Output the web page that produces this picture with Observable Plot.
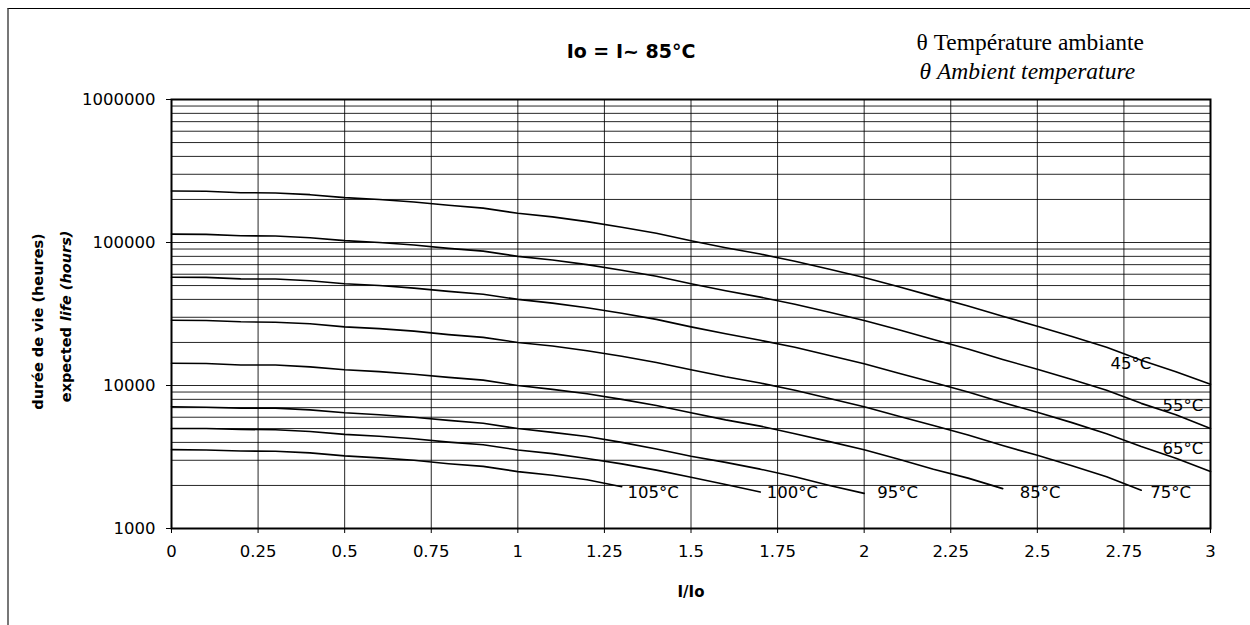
<!DOCTYPE html>
<html>
<head>
<meta charset="utf-8">
<script src="https://cdn.jsdelivr.net/npm/d3@7"></script>
<script src="https://cdn.jsdelivr.net/npm/@observablehq/plot@0.6"></script>
<style>
  html, body { margin: 0; padding: 0; background: #fff; }
  #wrap { position: relative; width: 1250px; height: 625px; overflow: hidden; }
  #wrap svg { position: absolute; left: 0; top: 0; }
  #border { position: absolute; left: 7px; top: 8px; width: 1300px; height: 700px;
            border-top: 1px solid #000; border-left: 2px solid #777; pointer-events: none; }
</style>
</head>
<body>
<div id="wrap"><div id="border"></div></div>
<script>
// ---- data ----
const xs = [0,0.1,0.2,0.3,0.4,0.5,0.6,0.7,0.8,0.9,1,1.1,1.2,1.3,1.4,1.5,1.6,1.7,1.8,1.9,2,2.1,2.2,2.3,2.4,2.5,2.6,2.7,2.8,2.9,3];

const temps = ["45°C","55°C","65°C","75°C","85°C","95°C","100°C","105°C"];

const life45  = [229000,228000,223000,222000,216000,206000,200000,192000,182000,174000,160000,151000,140000,128000,116000,103000,92000,83000,74000,65000,57000,49000,42000,36000,30500,26000,22000,18500,15000,12500,10200];
const life55  = [114500,114000,111500,111000,108000,103000,100000,96000,91000,87000,80000,75500,70000,64000,58000,51500,46000,41500,37000,32500,28500,24500,21000,18000,15200,13000,11000,9250,7500,6250,5000];
const life65  = [57200,57000,55700,55500,54000,51500,50000,48000,45500,43500,40000,37700,35000,32000,29000,25700,23000,20700,18500,16200,14200,12200,10500,9000,7600,6500,5500,4600,3750,3100,2500];
const life75  = [28600,28500,27900,27700,27000,25700,25000,24000,22700,21700,20000,18900,17500,16000,14500,12900,11500,10400,9250,8100,7100,6100,5250,4500,3800,3250,2750,2300,1850];
const life85  = [14300,14250,13900,13900,13500,12900,12500,12000,11400,10900,10000,9400,8750,8000,7250,6450,5750,5200,4600,4050,3550,3050,2600,2250,1900];
const life95  = [7100,7050,6950,6950,6750,6450,6250,6000,5700,5450,5000,4700,4400,4000,3600,3200,2900,2600,2300,2000,1760];
const life100 = [5000,5000,4930,4900,4770,4550,4420,4240,4020,3850,3540,3340,3090,2830,2560,2280,2030,1800];
const life105 = [3560,3540,3480,3470,3380,3220,3120,3000,2840,2720,2500,2360,2190,1960];

const lives = [life45, life55, life65, life75, life85, life95, life100, life105];

// curve label anchor points (data units)
const labelX = [2.77, 2.92, 2.92, 2.885, 2.508, 2.097, 1.793, 1.391];
const labelY = [14250, 7250, 3620, 1770, 1770, 1770, 1770, 1770];

const xTicks = [0,0.25,0.5,0.75,1,1.25,1.5,1.75,2,2.25,2.5,2.75,3];
const yTicks = [1000,10000,100000,1000000];
const yGrid = [3,4,5].flatMap(e => [1,2,3,4,5,6,7,8,9].map(k => k * 10 ** e)).concat([1e6]);

const titleText = "Io = I~ 85°C";
const legend1 = "θ Température ambiante";
const legend2 = "θ Ambient temperature";
const yLabel1 = "durée de vie (heures)";
const yLabel2a = "expected";
const yLabel2b = "life (hours)";
const xLabel = "I/Io";

// ---- build tables ----
const rows = temps.flatMap((t, k) => lives[k].map((v, i) => ({t, x: xs[i], y: v})));
const labels = temps.map((t, k) => ({t, x: labelX[k], y: labelY[k]}));

const SANS = "DejaVu Sans, Arial, sans-serif";
const SERIF = "Liberation Serif, Times New Roman, serif";

// frame box: left 171, right 1210, top 99, bottom 528
const chart = Plot.plot({
  width: 1250,
  height: 625,
  marginLeft: 171,
  marginRight: 40,
  marginTop: 99,
  marginBottom: 97,
  style: {fontFamily: SANS, fontSize: "16.5px", color: "#000", background: "transparent", overflow: "visible"},
  x: {domain: [0, 3]},
  y: {type: "log", domain: [1000, 1000000]},
  marks: [
    Plot.ruleY(yGrid, {stroke: "#000", strokeWidth: 1, strokeOpacity: 0.85}),
    Plot.ruleX(xTicks, {stroke: "#000", strokeWidth: 1, strokeOpacity: 0.85}),
    Plot.line(rows, {x: "x", y: "y", z: "t", stroke: "#000", strokeWidth: 1.6}),
    Plot.text(labels, {x: "x", y: "y", text: "t", fontSize: 16.5, fill: "#000", fontFamily: SANS, textAnchor: "middle", lineAnchor: "middle"}),
    Plot.frame({stroke: "#000", strokeWidth: 2}),
    Plot.axisX({ticks: xTicks, tickSize: 5, tickPadding: 12, tickFormat: d => String(d), label: null, fontSize: 16.5}),
    Plot.axisY({ticks: yTicks, tickSize: 5, tickPadding: 11, tickFormat: d => String(d), label: null, fontSize: 16.5}),
    // title
    Plot.text([titleText], {text: d => d, frameAnchor: "top-left", dx: 459.5, dy: -41.7, textAnchor: "middle", lineAnchor: "bottom", fontFamily: SANS, fontWeight: "bold", fontSize: 19, fill: "#000"}),
    // legend (serif)
    Plot.text([legend1], {text: d => d, frameAnchor: "top-left", dx: 745, dy: -49.7, textAnchor: "start", lineAnchor: "bottom", fontFamily: SERIF, fontSize: 23.5, fill: "#000"}),
    Plot.text([legend2], {text: d => d, frameAnchor: "top-left", dx: 748, dy: -20.7, textAnchor: "start", lineAnchor: "bottom", fontFamily: SERIF, fontStyle: "italic", fontSize: 23.5, fill: "#000"}),
    // y-axis label
    Plot.text([yLabel1], {text: d => d, frameAnchor: "top-left", dx: -128.5, dy: 222, rotate: -90, textAnchor: "middle", lineAnchor: "bottom", fontFamily: SANS, fontWeight: "bold", fontSize: 14.5, fill: "#000"}),
    Plot.text([yLabel2a], {text: d => d, frameAnchor: "top-left", dx: -101, dy: 302.7, rotate: -90, textAnchor: "start", lineAnchor: "bottom", fontFamily: SANS, fontWeight: "bold", fontSize: 14.5, fill: "#000"}),
    Plot.text([yLabel2b], {text: d => d, frameAnchor: "top-left", dx: -101, dy: 131, rotate: -90, textAnchor: "end", lineAnchor: "bottom", fontFamily: SANS, fontWeight: "bold", fontStyle: "italic", fontSize: 14.5, fill: "#000"}),
    // x-axis label
    Plot.text([xLabel], {text: d => d, frameAnchor: "bottom", dx: 0, dy: 68.7, textAnchor: "middle", lineAnchor: "bottom", fontFamily: SANS, fontWeight: "bold", fontSize: 15, fill: "#000"})
  ]
});

document.getElementById("wrap").appendChild(chart);
</script>
</body>
</html>
